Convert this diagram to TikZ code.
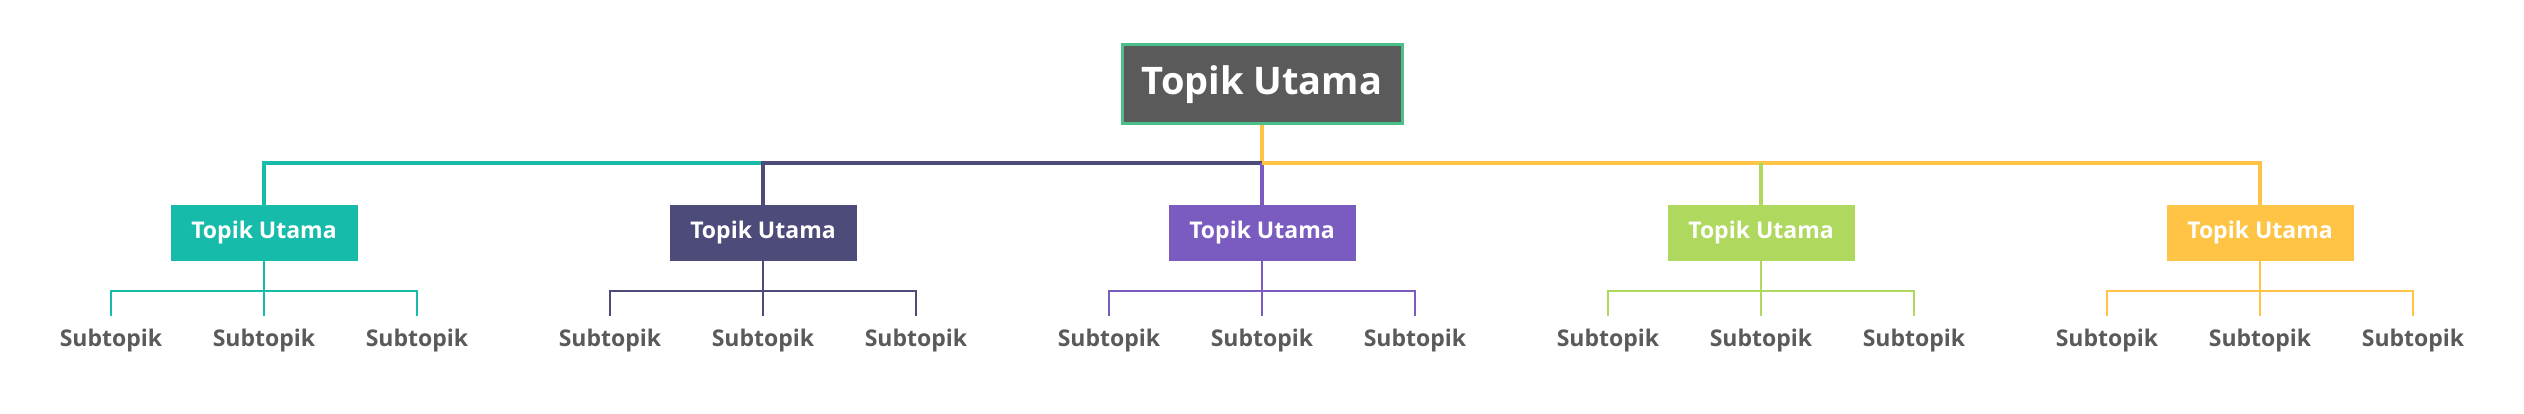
\documentclass[tikz,border=0pt]{standalone}
\usepackage{fontspec}
\setmainfont{Open Sans}
\definecolor{cA}{HTML}{17BBAA}
\definecolor{cB}{HTML}{4D4B7A}
\definecolor{cC}{HTML}{7A5CC0}
\definecolor{cD}{HTML}{AED95E}
\definecolor{cE}{HTML}{FFC445}
\definecolor{rootfill}{HTML}{5A5A5A}
\definecolor{rootline}{HTML}{4CC08A}
\definecolor{subtext}{HTML}{5A5A5A}
\begin{document}
\begin{tikzpicture}[x=1pt,y=-1pt,
  rootbox/.style={draw=rootline,line width=3pt,fill=rootfill,text=white,font=\bfseries\fontsize{38}{42}\selectfont,minimum width=280pt,minimum height=79pt,inner sep=0pt},
  childbox/.style={fill=#1,text=white,font=\bfseries\fontsize{23}{27}\selectfont,minimum width=187pt,minimum height=56pt,inner sep=0pt},
  subnode/.style={text=subtext,font=\bfseries\fontsize{23}{27}\selectfont,inner sep=0pt},
  mainline/.style={draw=#1,line width=4.5pt},
  subline/.style={draw=#1,line width=2.5pt}]
\useasboundingbox (0,0) rectangle (2524,414);
\node[rootbox] (root) at (1262,84.5) {Topik Utama};
\foreach \i/\x/\c in {1/264/cA,2/763/cB,3/1262/cC,4/1761/cD,5/2260/cE}{
  \node[childbox=\c] (c\i) at (\x,233) {Topik Utama};
  \coordinate (b\i) at (\x,163);
  \coordinate (s\i) at (\x,291);
  \coordinate (l\i) at (\x-153,291);
  \coordinate (r\i) at (\x+153,291);
  \node[subnode] (sa\i) at (\x-153,341) {Subtopik};
  \node[subnode] (sb\i) at (\x,341) {Subtopik};
  \node[subnode] (sc\i) at (\x+153,341) {Subtopik};
  \draw[subline=\c] (c\i.south) -- (s\i);
  \draw[subline=\c] (l\i |- 0,316) -- (l\i) -- (r\i) -- (r\i |- 0,316);
  \draw[subline=\c] (s\i) -- (s\i |- 0,316);
}
\draw[mainline=cE] (root.south) -- (b3);
\draw[mainline=cA] (c1.north) -- (b1) -- (b2);
\draw[mainline=cB] (c2.north) -- (b2) -- (b3);
\draw[mainline=cC] (c3.north) -- (b3);
\draw[mainline=cE] (b3) -- (b5) -- (c5.north);
\draw[mainline=cD] (c4.north) -- (b4);
\end{tikzpicture}
\end{document}
